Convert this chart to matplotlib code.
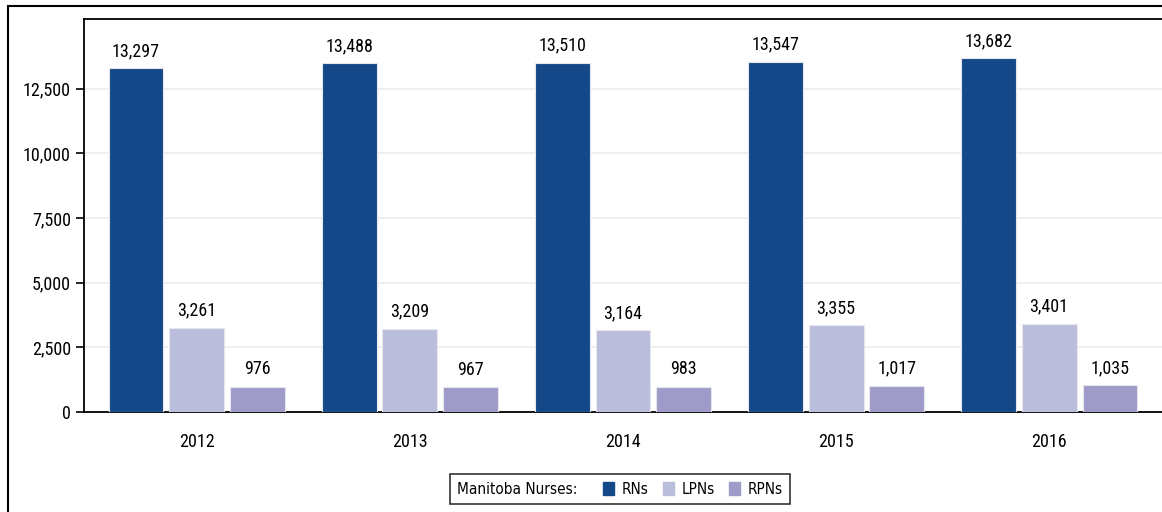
import numpy as np
import matplotlib
matplotlib.use("Agg")
import matplotlib.pyplot as plt
from matplotlib.patches import Rectangle, Patch
from matplotlib.ticker import FuncFormatter
from matplotlib.offsetbox import HPacker

years = ["2012", "2013", "2014", "2015", "2016"]
rns = [13297, 13488, 13510, 13547, 13682]
lpns = [3261, 3209, 3164, 3355, 3401]
rpns = [976, 967, 983, 1017, 1035]
series_names = ["RNs", "LPNs", "RPNs"]
colors = ["#154889", "#bbbddd", "#9e9bc8"]

plt.rcParams['font.family'] = ['Roboto Condensed', 'DejaVu Sans']

fig = plt.figure(figsize=(11.62, 5.12), dpi=100)
ax = fig.add_axes([84 / 1162, 1 - 412 / 512, 1 - 84 / 1162, (412 - 19) / 512])

# outer frame, cut at the right like the original
fig.patches.append(Rectangle((8 / 1162, -0.01), 1.1, 1 - 6 / 512 + 0.01, transform=fig.transFigure,
                             fill=False, edgecolor="black", linewidth=1.5))

x = np.arange(len(years))
width = 0.258
step = 0.286
for i, (vals, name, c) in enumerate(zip([rns, lpns, rpns], series_names, colors)):
    bars = ax.bar(x + (i - 1) * step, vals, width, color=c, edgecolor="#e6e6ee", linewidth=0.8,
                  label=name, zorder=3)
    for b, v in zip(bars, vals):
        ax.annotate(f"{v:,}", (b.get_x() + b.get_width() / 2, v), xytext=(0, 6),
                    textcoords="offset points", ha="center", va="bottom", fontsize=13)

ax.set_xlim(-0.53, 4.53)
ax.set_ylim(0, 15200)
ax.set_yticks([0, 2500, 5000, 7500, 10000, 12500])
ax.yaxis.set_major_formatter(FuncFormatter(lambda v, p: f"{int(v):,}"))
ax.set_xticks(x)
ax.set_xticklabels(years)
ax.tick_params(axis="x", length=0, pad=15, labelsize=13)
ax.tick_params(axis="y", length=6, width=1.2, labelsize=13)
ax.grid(axis="y", color="#ececec", linewidth=1.2, zorder=0)
ax.spines["right"].set_visible(False)
for s in ["left", "bottom", "top"]:
    ax.spines[s].set_linewidth(1.3)

handles = [Patch(color=c) for c in colors]
leg = fig.legend(handles, series_names, loc="center", bbox_to_anchor=(620 / 1162, 1 - 489 / 512), ncol=3,
                 frameon=True, fancybox=False, edgecolor="black", fontsize=11,
                 title="Manitoba Nurses:", title_fontsize=11,
                 prop={"family": "DejaVu Sans", "stretch": "condensed", "size": 11},
                 handlelength=0.75, handleheight=0.9, handletextpad=0.5, columnspacing=0.9,
                 borderpad=0.35)
leg.get_title().set_family("DejaVu Sans")
leg.get_title().set_stretch("condensed")
leg.get_frame().set_linewidth(1.2)
# put the title to the left of the entries instead of above them
try:
    fs = 11 * 100 / 72
    box = HPacker(pad=0.35 * fs, sep=1.2 * fs, align="center",
                  children=[leg._legend_title_box, leg._legend_handle_box])
    box.set_figure(fig)
    leg._legend_box = box
    box.set_offset(leg._findoffset)
except Exception:
    pass

fig.savefig("out.png", dpi=100)
